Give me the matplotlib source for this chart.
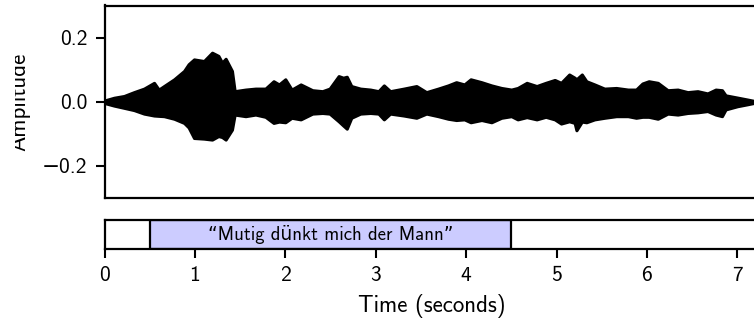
import matplotlib
matplotlib.use('Agg')
import matplotlib.pyplot as plt
from matplotlib.transforms import Bbox

# envelope of the waveform (seconds, amplitude)
times = [0.0, 0.105, 0.216, 0.326, 0.437, 0.548, 0.60, 0.658, 0.77, 0.88, 0.93, 0.99,
         1.10, 1.19, 1.26, 1.30, 1.34, 1.41, 1.44, 1.56, 1.67, 1.78, 1.87, 1.93, 2.0,
         2.07, 2.17, 2.30, 2.41, 2.49, 2.59, 2.64, 2.68, 2.73, 2.83, 2.94, 3.03, 3.09,
         3.16, 3.31, 3.45, 3.56, 3.69, 3.80, 3.89, 3.98, 4.05, 4.17, 4.28, 4.39, 4.50,
         4.57, 4.67, 4.78, 4.88, 4.98, 5.05, 5.14, 5.20, 5.22, 5.28, 5.33, 5.42, 5.53,
         5.66, 5.79, 5.88, 5.95, 6.02, 6.12, 6.23, 6.34, 6.45, 6.56, 6.67, 6.76, 6.83,
         6.87, 7.0, 7.11, 7.18, 7.23]
upper = [0.004, 0.0125, 0.018, 0.030, 0.041, 0.059, 0.038, 0.049, 0.070, 0.096, 0.117, 0.132,
         0.127, 0.153, 0.143, 0.122, 0.134, 0.096, 0.033, 0.038, 0.041, 0.041, 0.064, 0.054, 0.070,
         0.038, 0.054, 0.036, 0.033, 0.041, 0.080, 0.075, 0.078, 0.049, 0.041, 0.038, 0.033, 0.051,
         0.033, 0.041, 0.049, 0.030, 0.041, 0.051, 0.061, 0.054, 0.070, 0.061, 0.051, 0.043, 0.038,
         0.043, 0.059, 0.049, 0.059, 0.068, 0.059, 0.085, 0.075, 0.070, 0.085, 0.064, 0.054, 0.041,
         0.043, 0.038, 0.038, 0.057, 0.064, 0.059, 0.036, 0.038, 0.030, 0.033, 0.026, 0.038, 0.036,
         0.020, 0.013, 0.007, 0.003, 0.0]
lower = [-0.004, -0.012, -0.019, -0.026, -0.037, -0.043, -0.044, -0.045, -0.053, -0.066, -0.080, -0.113,
         -0.115, -0.118, -0.107, -0.110, -0.118, -0.087, -0.040, -0.045, -0.040, -0.047, -0.066, -0.062, -0.064,
         -0.050, -0.055, -0.037, -0.035, -0.037, -0.061, -0.074, -0.084, -0.050, -0.037, -0.035, -0.037, -0.055,
         -0.037, -0.043, -0.050, -0.037, -0.045, -0.053, -0.057, -0.055, -0.064, -0.057, -0.064, -0.050, -0.045,
         -0.055, -0.048, -0.055, -0.047, -0.055, -0.068, -0.061, -0.066, -0.089, -0.062, -0.064, -0.055, -0.050,
         -0.045, -0.045, -0.050, -0.047, -0.047, -0.053, -0.037, -0.040, -0.035, -0.033, -0.029, -0.040, -0.045,
         -0.024, -0.014, -0.008, -0.004, 0.0]

# text region shown below the waveform
seg_start = 0.5
seg_end = 4.5
seg_text = '\u201cMutig d\u00fcnkt mich der Mann\u201d'

x_ticks = [0, 1, 2, 3, 4, 5, 6, 7]
y_ticks = [-0.2, 0.0, 0.2]

plt.rcParams['font.family'] = ['cmss10', 'DejaVu Sans']
plt.rcParams['axes.unicode_minus'] = True
plt.rcParams['font.size'] = 16.5

W, H = 754, 325
fig = plt.figure(figsize=(W / 100, H / 100), dpi=100)

x_max = 7.234
ax = fig.add_axes([104.5 / W, 127 / H, 654 / W, 192.5 / H])
ax.fill_between(times, lower, upper, color='black', lw=2.2, joinstyle='round')
ax.set_xlim(0, x_max)
ax.set_ylim(-0.3, 0.3)
ax.set_xticks([])
ax.set_yticks(y_ticks)
ax.set_yticklabels(['\u22120.2', '0.0', '0.2'])
ax.tick_params(axis='y', length=6.5, width=1.5, pad=6, labelsize=15.5)
for sp in ax.spines.values():
    sp.set_linewidth(1.6)

# y label sits partly outside the visible strip, as in the source image
ylab = fig.text(19.5 / W, (H - 101.75) / H, 'Amplitude', rotation=90,
                ha='center', va='center')
ylab.set_clip_box(Bbox.from_extents(15, 0, W, H))
ylab.set_clip_on(True)

ax2 = fig.add_axes([104.5 / W, 76 / H, 654 / W, 29 / H])
ax2.axvspan(seg_start, seg_end, facecolor='#ccccff', edgecolor='black', lw=1.6)
ax2.text((seg_start + seg_end) / 2, 0.5, seg_text, ha='center', va='center',
         fontsize=13.5)
ax2.set_xlim(0, x_max)
ax2.set_ylim(0, 1)
ax2.set_yticks([])
ax2.set_xticks(x_ticks)
ax2.tick_params(axis='x', length=6.5, width=1.5, pad=6, labelsize=15.5)
ax2.set_xlabel('Time (seconds)', labelpad=6)
for sp in ax2.spines.values():
    sp.set_linewidth(1.6)

fig.savefig('out.png', dpi=100)
